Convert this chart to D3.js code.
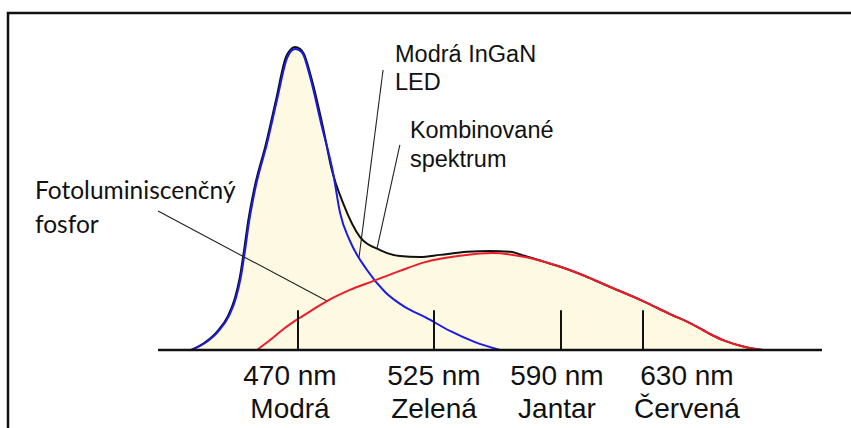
<!DOCTYPE html>
<html>
<head>
<meta charset="utf-8">
<script src="https://cdn.jsdelivr.net/npm/d3@7"></script>
<style>
  html, body { margin: 0; padding: 0; background: #fff; overflow: hidden; }
  svg { display: block; }
  .tick-label { font-family: "Liberation Sans", Arial, sans-serif; font-size: 28px; fill: #111; }
  .note { font-family: "Liberation Sans", Arial, sans-serif; font-size: 23.5px; fill: #111; }
  .note-cal { font-family: Lato, "Open Sans", sans-serif; font-size: 24.5px; fill: #111; }
</style>
</head>
<body>
<div id="graph"></div>
<script>
// wavelength (nm) and relative intensity (0-100)
var blueWl = [427.1, 432.4, 437.6, 442.1, 444.9, 446.9, 448.6, 450.2, 452.6, 457.5, 461.5, 465.6, 467.2, 468.8, 470.4, 472.0, 474.9, 479.7, 484.2, 487.0, 491.0, 497.9, 505.2, 513.3, 521.4, 533.2, 546.0, 558.8];
var blueI  = [0, 2.3, 6.0, 11.3, 17.2, 24.2, 33.1, 42.4, 53.0, 68.5, 82.8, 96.7, 99.0, 99.7, 99.3, 98.0, 90.4, 73.8, 58.6, 45.4, 36.1, 26.5, 19.2, 14.2, 10.9, 6.3, 2.6, 0];

var redWl = [453.4, 458.7, 464.7, 470.0, 475.7, 481.7, 491.0, 500.3, 511.2, 521.4, 537.3, 554.7, 571.6, 588.5, 601.7, 612.9, 630.0, 643.2, 653.9, 662.7, 670.0, 679.8, 688.5];
var redI  = [0, 3.3, 7.3, 10.3, 13.2, 16.2, 19.9, 22.8, 26.2, 29.1, 31.1, 32.1, 30.8, 27.8, 24.5, 21.2, 16.2, 11.9, 8.6, 5.3, 3.0, 1.0, 0];

var sumWl = [426.7, 432.0, 437.2, 441.7, 444.5, 446.5, 448.2, 449.8, 452.2, 457.1, 461.1, 465.1, 466.8, 468.8, 470.8, 472.4, 475.3, 480.1, 483.7, 488.2, 495.1, 503.2, 511.2, 519.3, 528.1, 541.9, 553.7, 563.9, 571.6, 581.8, 588.5, 601.7, 612.9, 630.0, 643.2, 653.9, 662.7, 670.0, 679.8, 688.5];
var sumI  = [0, 2.3, 6.0, 11.3, 17.2, 24.2, 33.1, 42.4, 53.0, 68.5, 82.8, 97.0, 99.3, 100.3, 99.7, 98.0, 90.4, 73.8, 59.6, 48.7, 37.4, 33.1, 31.1, 30.8, 31.5, 32.5, 32.8, 32.5, 31.1, 29.1, 27.8, 24.5, 21.2, 16.2, 11.9, 8.6, 5.3, 3.0, 1.0, 0];

var tickWl = [470, 525, 590, 630];
var tickNm = ["470 nm", "525 nm", "590 nm", "630 nm"];
var tickColor = ["Modrá", "Zelená", "Jantar", "Červená"];

var notes = [
  {lines: ["Modrá InGaN", "LED"], from: [504.4, 92.7], to: [494.7, 30.8], cls: "note", dx: 12, dy: -8, lh: 28},
  {lines: ["Kombinované", "spektrum"], from: [511.2, 67.9], to: [502.0, 33.8], cls: "note", dx: 10, dy: -7, lh: 29},
  {lines: ["Fotoluminiscenčný", "fosfor"], from: [413.4, 46.0], to: [481.7, 16.2], cls: "note-cal", dx: -123, dy: -12, lh: 34}
];

var width = 851, height = 428;

// the original axis is schematic, so spacing differs between ticks
var x = d3.scaleLinear().domain(tickWl).range([298, 434, 561, 643]);
var xLabel = d3.scaleLinear().domain(tickWl).range([290, 434, 557, 687]);
var y = d3.scaleLinear().domain([0, 100]).range([350, 48]);

var svg = d3.select("div#graph")
    .append("svg")
    .attr("width", width)
    .attr("height", height);

svg.append("rect")
    .attr("x", 8).attr("y", 13)
    .attr("width", 900).attr("height", 500)
    .attr("fill", "none")
    .attr("stroke", "#111")
    .attr("stroke-width", 2.5);

function pts(wl, vals) {
    return wl.map(function(d, i) { return [d, vals[i]]; });
}

var line = d3.line()
    .x(function(d) { return x(d[0]); })
    .y(function(d) { return y(d[1]); })
    .curve(d3.curveMonotoneX);

var area = d3.area()
    .x(function(d) { return x(d[0]); })
    .y0(y(0))
    .y1(function(d) { return y(d[1]); })
    .curve(d3.curveMonotoneX);

// fill under the combined spectrum
svg.append("path")
    .datum(pts(sumWl, sumI))
    .attr("d", area)
    .attr("fill", "#fdf9e2");

// leader lines
svg.selectAll("line.leader")
    .data(notes)
    .enter()
    .append("line")
    .attr("class", "leader")
    .attr("x1", function(d) { return x(d.from[0]); })
    .attr("y1", function(d) { return y(d.from[1]); })
    .attr("x2", function(d) { return x(d.to[0]); })
    .attr("y2", function(d) { return y(d.to[1]); })
    .attr("stroke", "#222")
    .attr("stroke-width", 1.1);

svg.append("path")
    .datum(pts(sumWl, sumI))
    .attr("d", line)
    .attr("fill", "none")
    .attr("stroke", "#111")
    .attr("stroke-width", 2);

svg.append("path")
    .datum(pts(blueWl, blueI))
    .attr("d", line)
    .attr("fill", "none")
    .attr("stroke", "#1a1ae6")
    .attr("stroke-width", 2);

svg.append("path")
    .datum(pts(redWl, redI))
    .attr("d", line)
    .attr("fill", "none")
    .attr("stroke", "#ee1c2a")
    .attr("stroke-width", 2);

// baseline and ticks
var xAxis = d3.axisBottom(x)
    .tickValues(tickWl)
    .tickSize(0)
    .tickFormat("");

var axisG = svg.append("g")
    .attr("transform", "translate(0," + y(0) + ")")
    .call(xAxis);
axisG.select(".domain").remove();

axisG.append("line")
    .attr("x1", x(413.4)).attr("x2", x(717.3))
    .attr("stroke", "#111").attr("stroke-width", 2.6);

axisG.selectAll("line.tk")
    .data(tickWl)
    .enter()
    .append("line")
    .attr("class", "tk")
    .attr("x1", function(d) { return x(d); })
    .attr("x2", function(d) { return x(d); })
    .attr("y1", 0)
    .attr("y2", y(13.2) - y(0))
    .attr("stroke", "#111")
    .attr("stroke-width", 2);

svg.selectAll("text.nm")
    .data(tickWl)
    .enter()
    .append("text")
    .attr("class", "tick-label nm")
    .attr("x", function(d) { return xLabel(d); })
    .attr("y", 385)
    .attr("text-anchor", "middle")
    .text(function(d, i) { return tickNm[i]; });

svg.selectAll("text.col")
    .data(tickWl)
    .enter()
    .append("text")
    .attr("class", "tick-label col")
    .attr("x", function(d) { return xLabel(d); })
    .attr("y", 418)
    .attr("text-anchor", "middle")
    .text(function(d, i) { return tickColor[i]; });

// annotation texts
notes.forEach(function(n) {
    n.lines.forEach(function(t, i) {
        svg.append("text")
            .attr("class", n.cls)
            .attr("x", x(n.from[0]) + n.dx)
            .attr("y", y(n.from[1]) + n.dy + i * n.lh)
            .text(t);
    });
});
</script>
</body>
</html>
